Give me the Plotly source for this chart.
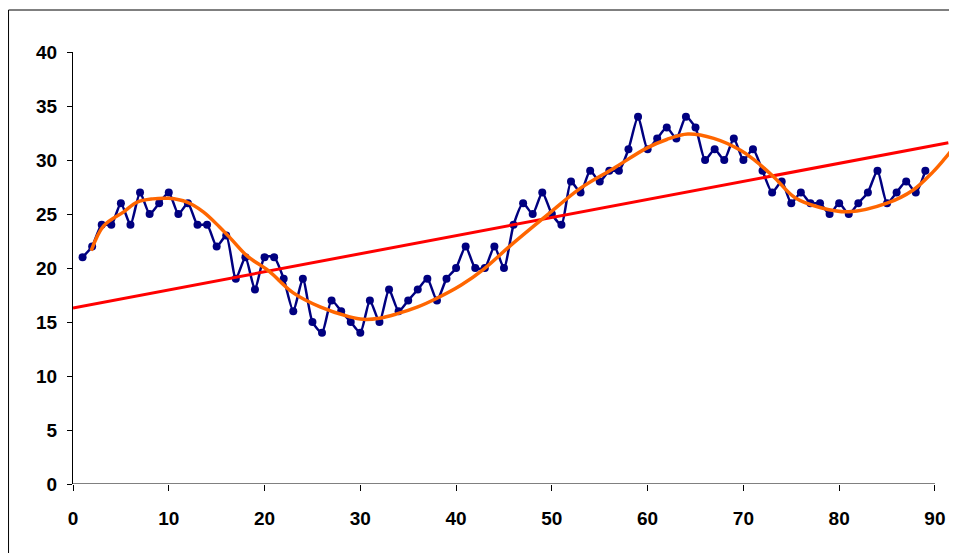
import plotly.graph_objects as go

# ---- data ----
x_vals = list(range(1, 90))
y_vals = [21, 22, 24, 24, 26, 24, 27, 25, 26, 27,
          25, 26, 24, 24, 22, 23, 19, 21, 18, 21,
          21, 19, 16, 19, 15, 14, 17, 16, 15, 14,
          17, 15, 18, 16, 17, 18, 19, 17, 19, 20,
          22, 20, 20, 22, 20, 24, 26, 25, 27, 25,
          24, 28, 27, 29, 28, 29, 29, 31, 34, 31,
          32, 33, 32, 34, 33, 30, 31, 30, 32, 30,
          31, 29, 27, 28, 26, 27, 26, 26, 25, 26,
          25, 26, 27, 29, 26, 27, 28, 27, 29]

# linear trend line
trend_x = [0.0, 91.4]
trend_y = [16.3, 31.6]

# smooth (polynomial-like) trend curve
curve_x = [1.9, 3.2, 5.3, 6.7, 8.3, 10.0, 11.9, 13.6, 15.3, 16.5,
           18.2, 20.4, 23.0, 25.8, 28.8, 30.3, 32.0, 33.8, 36.0, 38.0,
           40.5, 42.9, 45.7, 49.5, 53.0, 56.4, 59.9, 62.0, 64.2, 66.9,
           69.7, 71.0, 73.1, 75.4, 78.0, 81.0, 85.0, 87.7, 89.8, 91.0, 92.1]
curve_y = [21.6, 23.9, 25.2, 26.1, 26.4, 26.45, 26.1, 25.2, 23.8, 22.7,
           21.1, 19.75, 17.7, 16.4, 15.5, 15.25, 15.35, 15.75, 16.4, 17.2,
           18.4, 19.9, 22.1, 24.9, 27.4, 29.2, 31.1, 31.9, 32.4, 32.0,
           30.9, 30.1, 28.5, 26.5, 25.6, 25.2, 26.0, 27.2, 28.9, 30.1, 31.3]

x_ticks = [0, 10, 20, 30, 40, 50, 60, 70, 80, 90]
y_ticks = [0, 5, 10, 15, 20, 25, 30, 35, 40]

fig = go.Figure()
fig.add_trace(go.Scatter(
    x=x_vals, y=y_vals, mode="lines+markers",
    line=dict(color="#000080", width=2.5, shape="spline", smoothing=0.6),
    marker=dict(color="#000080", size=8),
    showlegend=False, hoverinfo="skip"))
fig.add_trace(go.Scatter(
    x=trend_x, y=trend_y, mode="lines",
    line=dict(color="#FF0000", width=3), showlegend=False, hoverinfo="skip"))
fig.add_trace(go.Scatter(
    x=curve_x, y=curve_y, mode="lines",
    line=dict(color="#FF6600", width=3.5, shape="spline", smoothing=1.0),
    showlegend=False, hoverinfo="skip"))

font = dict(family="Liberation Sans, Arial, sans-serif", size=19, color="black")

fig.update_layout(
    width=949, height=545,
    margin=dict(l=65, r=1, t=44, b=69),
    paper_bgcolor="white", plot_bgcolor="white",
    font=font,
    xaxis=dict(range=[0, 92.2], tickvals=x_ticks,
               ticktext=[f"<b>{v}</b>" for v in x_ticks],
               showgrid=False, zeroline=False, showline=False,
               ticks="outside", ticklen=6, tickcolor="black", tickwidth=1,
               ticklabelstandoff=11),
    yaxis=dict(range=[0, 40], tickvals=y_ticks,
               ticktext=[f"<b>{v}</b>" for v in y_ticks],
               showgrid=False, zeroline=False, showline=True,
               linecolor="black", linewidth=1,
               ticks="outside", ticklen=5, tickcolor="black", tickwidth=1,
               ticklabelstandoff=6),
    shapes=[
        dict(type="line", xref="x", yref="y", x0=0, x1=90, y0=0, y1=0,
             line=dict(color="black", width=1)),
        dict(type="rect", xref="paper", yref="paper",
             x0=-0.0730, x1=1.05, y0=-0.3, y1=1.0972,
             line=dict(color="black", width=1), fillcolor="rgba(0,0,0,0)",
             layer="above"),
    ],
)

fig.write_html("out.html")
